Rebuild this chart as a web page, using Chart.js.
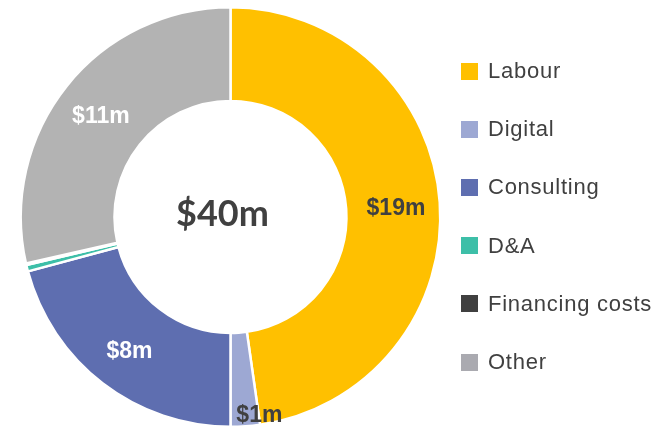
<!DOCTYPE html>
<html>
<head>
<meta charset="utf-8">
<script src="https://cdn.jsdelivr.net/npm/chart.js@4/dist/chart.umd.min.js"></script>
<style>
  html, body { margin: 0; padding: 0; background: #fff; }
  #wrap { position: relative; width: 657px; height: 428px; }
  #legend { position: absolute; left: 461px; top: 42px; font-family: "Liberation Sans", Arial, sans-serif; font-size: 22px; letter-spacing: 0.75px; color: #404040; }
  .legend-item { display: flex; align-items: center; height: 58.2px; white-space: nowrap; }
  .legend-dot { width: 17px; height: 17px; margin-right: 10px; flex: none; }
</style>
</head>
<body>
<div id="wrap">
  <canvas id="chart-spend"></canvas>
  <div id="legend"></div>
</div>
<script>
// ── Data ──
const categories = ['Labour', 'Digital', 'Consulting', 'D&A', 'Financing costs', 'Other'];
const spend      = [19.1, 0.9, 8.33, 0.2, 0.05, 11.42];   // $m
const sliceLabels = ['$19m', '$1m', '$8m', '', '', '$11m'];
const totalLabel = '$40m';

// ── Colours ──
const sliceColors  = ['#ffc000', '#9da8d3', '#5e6eb0', '#3dbfa8', '#404040', '#b3b3b3'];
const legendColors = ['#ffc000', '#9da8d3', '#5e6eb0', '#3dbfa8', '#404040', '#aaaab0'];
const labelColors  = ['#404040', '#404040', '#ffffff', '#ffffff', '#ffffff', '#ffffff'];

// labels drawn inside each arc; the tiny Digital slice gets its label near the rim
const labelPlugin = {
  id: 'sliceLabels',
  afterDatasetsDraw(chart) {
    const ctx = chart.ctx;
    const meta = chart.getDatasetMeta(0);
    ctx.save();
    ctx.font = 'bold 23px "Liberation Sans", Arial, sans-serif';
    ctx.textBaseline = 'middle';
    meta.data.forEach((arc, i) => {
      const txt = sliceLabels[i];
      if (!txt) return;
      const p = arc.getProps(['x', 'y', 'startAngle', 'endAngle', 'innerRadius', 'outerRadius'], true);
      const mid = (p.startAngle + p.endAngle) / 2;
      let r = (p.innerRadius + p.outerRadius) / 2 + 3;
      ctx.textAlign = 'center';
      let dx = 0;
      if (i === 1) { r = p.outerRadius * 0.935; ctx.textAlign = 'left'; dx = -8; }
      ctx.fillStyle = labelColors[i];
      ctx.fillText(txt, p.x + Math.cos(mid) * r + dx, p.y + Math.sin(mid) * r + 3);
    });
    // total in the hole
    const c = meta.data[0];
    ctx.font = 'bold 36px Lato, "Liberation Sans", sans-serif';
    ctx.fillStyle = '#404040';
    ctx.textAlign = 'center';
    ctx.fillText(totalLabel, c.x - 8, c.y - 3);
    ctx.restore();
  }
};

new Chart(document.getElementById('chart-spend'), {
  type: 'doughnut',
  data: {
    labels: categories,
    datasets: [{
      data: spend,
      backgroundColor: sliceColors,
      borderColor: '#fff',
      borderWidth: 2.5
    }]
  },
  options: {
    responsive: true,
    maintainAspectRatio: false,
    animation: false,
    cutout: '55.3%',
    layout: { padding: { left: 19, top: 6, right: 215, bottom: 0 } },
    plugins: {
      legend: { display: false },
      tooltip: { enabled: false }
    }
  },
  plugins: [labelPlugin]
});

// ── Custom HTML legend ──
document.getElementById('legend').innerHTML = categories.map((l, i) =>
  `<div class="legend-item"><span class="legend-dot" style="background:${legendColors[i]}"></span>${l}</div>`
).join('');
</script>
</body>
</html>
